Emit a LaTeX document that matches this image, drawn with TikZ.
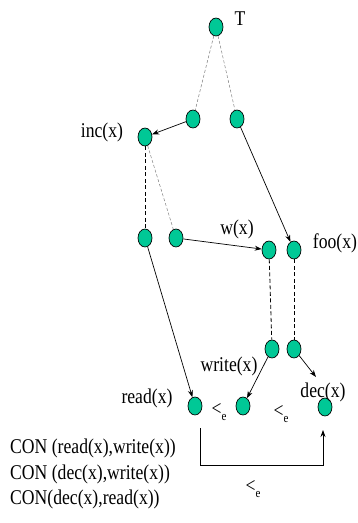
\documentclass[tikz,border=0pt]{standalone}
\usepackage{graphicx}
\usepackage{fontspec}
\setmainfont{Liberation Serif}
\usetikzlibrary{shapes.geometric,arrows.meta}
\definecolor{tealg}{HTML}{00C896}
\begin{document}
\begin{tikzpicture}[x=1pt,y=-1pt,
  dot/.style={ellipse,draw=black,line width=0.7pt,fill=tealg,minimum width=14pt,minimum height=18pt,inner sep=0pt},
  lbl/.style={font=\fontsize{21}{23}\selectfont,inner sep=0pt},
  arr/.style={draw=black,line width=0.7pt,-{Stealth[length=7pt,width=5pt]}},
  gdash/.style={draw=gray,line width=0.5pt,dash pattern=on 3pt off 2pt},
  bdash/.style={draw=black,line width=0.8pt,dash pattern=on 4pt off 2.5pt}]
\useasboundingbox (0,0) rectangle (358,523);
\newcommand{\sq}[1]{\scalebox{0.84}[1]{#1}}
\newcommand{\lte}{\sq{<}\raisebox{-0.55ex}{\sq{\fontsize{13}{13}\selectfont e}}}
% nodes
\node[dot] (t) at (216,27) {};
\node[dot] (n2) at (193,119) {};
\node[dot] (n3) at (237,119) {};
\node[dot] (inc) at (145,137) {};
\node[dot] (a) at (145,238) {};
\node[dot] (b) at (176,238) {};
\node[dot] (w) at (269,250) {};
\node[dot] (foo) at (294,250) {};
\node[dot] (wp) at (272,349) {};
\node[dot] (dp) at (294,349) {};
\node[dot] (rd) at (195,406) {};
\node[dot] (wr) at (243,406) {};
\node[dot] (dc) at (325,407) {};
% labels
\node[lbl] (lt) at (240,19) {\sq{T}};
\node[lbl] (linc) at (102,132) {\sq{inc(x)}};
\node[lbl] (lw) at (237,229) {\sq{w(x)}};
\node[lbl] (lfoo) at (335,243) {\sq{foo(x)}};
\node[lbl] (lwr) at (229,366) {\sq{write(x)}};
\node[lbl] (lrd) at (147,398) {\sq{read(x)}};
\node[lbl] (ldc) at (323,392) {\sq{dec(x)}};
\node[lbl] (e1) at (219,412) {\lte};
\node[lbl] (e2) at (281,414) {\lte};
\node[lbl] (e3) at (253,489) {\lte};
\node[lbl,anchor=west] (c1) at (10,448) {\sq{CON (read(x),write(x))}};
\node[lbl,anchor=west] (c2) at (10,474) {\sq{CON (dec(x),write(x))}};
\node[lbl,anchor=west] (c3) at (10,499) {\sq{CON(dec(x),read(x))}};
% connectors
\draw[gdash] (t) -- (n2);
\draw[gdash] (t) -- (n3);
\draw[arr] (n2) -- (inc);
\draw[arr] (n3) -- (foo);
\draw[bdash] (inc) -- (a);
\draw[gdash] (inc) -- (b);
\draw[arr] (b) -- (w);
\draw[arr] (a) -- (rd);
\draw[bdash] (w) -- (wp);
\draw[bdash] (foo) -- (dp);
\draw[arr] (wp) -- (wr);
\coordinate (dtip) at (316,377);
\draw[arr] (dp) -- (dtip);
\coordinate (b1) at (200,428);
\coordinate (bl) at (200,465);
\coordinate (br) at (323,465);
\coordinate (b2) at (323,430);
\draw[arr] (b1) -- (bl) -- (br) -- (b2);
\end{tikzpicture}
\end{document}
